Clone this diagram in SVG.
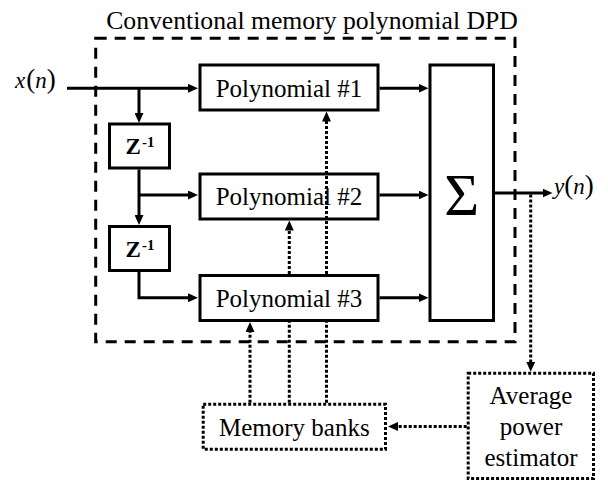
<svg xmlns="http://www.w3.org/2000/svg" width="608" height="482" viewBox="0 0 608 482">
<style>
.t{font-family:"Liberation Serif","Times New Roman",serif;font-size:25px;fill:#000;text-anchor:middle}
.z{font-family:"Liberation Serif","Times New Roman",serif;font-size:23px;font-weight:bold;fill:#000;text-anchor:middle}
.box{fill:#fff;stroke:#000;stroke-width:3}
.dbox{fill:#fff;stroke:#000;stroke-width:3;stroke-dasharray:3 2}
.ln{fill:none;stroke:#000;stroke-width:3}
.dl{fill:none;stroke:#000;stroke-width:3;stroke-dasharray:3 2}
.it{font-style:italic}
</style>
<defs>
<marker id="ah" markerUnits="userSpaceOnUse" viewBox="0 0 10 9" markerWidth="10" markerHeight="9" refX="6" refY="4.5" orient="auto">
<path d="M0,0 L10,4.5 L0,9 z" fill="#000"/>
</marker>
</defs>
<text class="t" x="312" y="28.5" style="font-size:25.7px">Conventional memory polynomial DPD</text>
<rect id="dpd-boundary" x="95.7" y="38.3" width="419.3" height="303.4" fill="none" stroke="#000" stroke-width="3" stroke-dasharray="11 8"/>
<g id="input">
<text x="15" y="87.5" style="font-family:'Liberation Serif',serif;font-size:23px"><tspan class="it">x</tspan><tspan font-size="27" dx="1">(</tspan><tspan class="it">n</tspan><tspan font-size="27">)</tspan></text>
</g>
<g id="z1"><rect class="box" x="109.5" y="124" width="60" height="44"/><text class="z" x="140" y="154">Z<tspan font-size="15" dx="1" dy="-7">-1</tspan></text></g>
<g id="z2"><rect class="box" x="109.5" y="226.5" width="60" height="44"/><text class="z" x="140" y="256.5">Z<tspan font-size="15" dx="1" dy="-7">-1</tspan></text></g>
<g id="poly1"><rect class="box" x="200" y="65" width="178" height="45"/><text class="t" x="289" y="96.5">Polynomial #1</text></g>
<g id="poly2"><rect class="box" x="200" y="174" width="178" height="45"/><text class="t" x="289" y="205">Polynomial #2</text></g>
<g id="poly3"><rect class="box" x="200" y="275.5" width="178" height="45"/><text class="t" x="289" y="307">Polynomial #3</text></g>
<g id="sum"><rect class="box" x="430" y="65" width="63.5" height="255.5"/><text x="461.7" y="215" style="font-family:'Liberation Serif',serif;font-size:60px;text-anchor:middle">Σ</text></g>
<g id="output"><text x="554" y="194" style="font-family:'Liberation Serif',serif;font-size:23px"><tspan class="it">y</tspan><tspan font-size="27">(</tspan><tspan class="it">n</tspan><tspan font-size="27">)</tspan></text></g>
<g id="memory-banks"><rect class="dbox" x="203.2" y="404.2" width="182.3" height="45"/><text class="t" x="294.3" y="435.5">Memory banks</text></g>
<g id="power-estimator"><rect class="dbox" x="468.2" y="373.2" width="125.3" height="105.3"/><text class="t" x="531" y="404">Average</text><text class="t" x="531" y="435">power</text><text class="t" x="531" y="466">estimator</text></g>
<g id="connectors">
<path class="ln" d="M67,88.3 H194" marker-end="url(#ah)"/>
<path class="ln" d="M139,88.3 V119" marker-end="url(#ah)"/>
<path class="ln" d="M139,169.5 V221" marker-end="url(#ah)"/>
<path class="ln" d="M139,195 H194" marker-end="url(#ah)"/>
<path class="ln" d="M139,272 V297.7 H194" marker-end="url(#ah)"/>
<path class="ln" d="M379.5,88.3 H424.5" marker-end="url(#ah)"/>
<path class="ln" d="M379.5,195 H424.5" marker-end="url(#ah)"/>
<path class="ln" d="M379.5,297.7 H424.5" marker-end="url(#ah)"/>
<path class="ln" d="M495,193 H548.5" marker-end="url(#ah)"/>
<path class="dl" d="M250,402.7 V326" marker-end="url(#ah)"/>
<path class="dl" d="M289.3,402.7 V322"/>
<path class="dl" d="M289.3,274 V224.5" marker-end="url(#ah)"/>
<path class="dl" d="M326.5,402.7 V322"/>
<path class="dl" d="M326.5,274 V115.5" marker-end="url(#ah)"/>
<path class="dl" d="M530.7,194.5 V367.7" marker-end="url(#ah)"/>
<path class="dl" d="M466.7,426.5 H392" marker-end="url(#ah)"/>
</g>
</svg>
